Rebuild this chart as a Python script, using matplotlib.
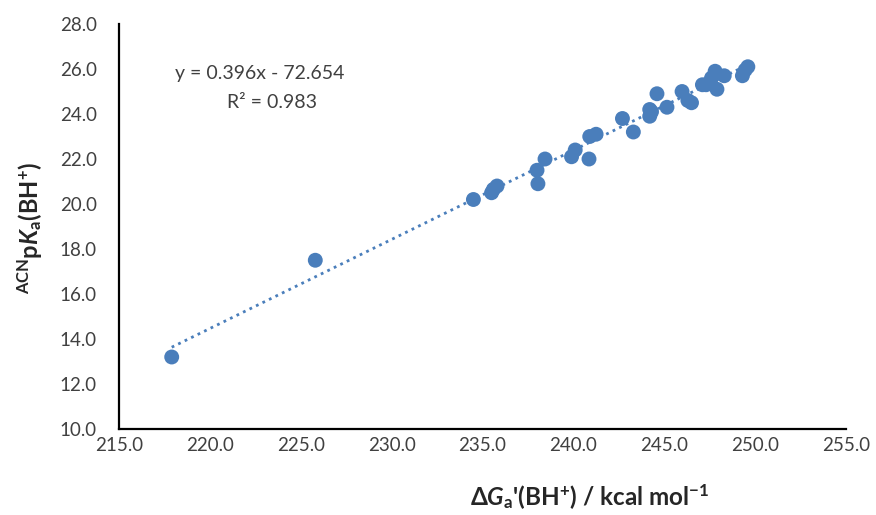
import matplotlib
matplotlib.use("Agg")
import matplotlib.pyplot as plt
import numpy as np

# Data
dG = [217.9, 225.8, 234.5, 235.5, 235.6, 235.8, 238.0, 238.05, 238.44, 239.9,
      240.1, 240.86, 240.9, 241.25, 242.7, 243.3, 244.2, 244.2, 244.3, 244.6,
      245.15, 245.98, 246.3, 246.5, 247.1, 247.3, 247.6, 247.8, 247.9, 248.3,
      249.3, 249.45, 249.6]
pKa = [13.2, 17.5, 20.2, 20.5, 20.65, 20.8, 21.5, 20.9, 22.0, 22.1,
       22.4, 22.0, 23.0, 23.1, 23.8, 23.2, 24.2, 23.9, 24.1, 24.9,
       24.3, 25.0, 24.6, 24.5, 25.3, 25.3, 25.6, 25.9, 25.1, 25.7,
       25.7, 25.95, 26.1]
slope = 0.396
intercept = -72.654
r2 = 0.983
xticks = [215.0, 220.0, 225.0, 230.0, 235.0, 240.0, 245.0, 250.0, 255.0]
yticks = [10.0, 12.0, 14.0, 16.0, 18.0, 20.0, 22.0, 24.0, 26.0, 28.0]

plt.rcParams['font.family'] = ['Lato', 'DejaVu Sans']
plt.rcParams['mathtext.fontset'] = 'custom'
plt.rcParams['mathtext.rm'] = 'Lato'
plt.rcParams['mathtext.it'] = 'Lato:italic'
plt.rcParams['mathtext.bf'] = 'Lato:bold'
plt.rcParams['mathtext.bfit'] = 'Lato:bold:italic'

color = '#4A7EBB'
fig = plt.figure(figsize=(8.76, 5.15), dpi=100)
ax = fig.add_axes([119/876, 1-429/515, (846-119)/876, (429-24)/515])

xs = np.array([min(dG), max(dG)])
ax.plot(xs, slope*xs + intercept, linestyle=(0, (1, 1.6)), color=color, lw=2.0, zorder=1)
ax.scatter(dG, pKa, s=115, color=color, edgecolors='none', zorder=2)

ax.set_xlim(215, 255)
ax.set_ylim(10, 28)
ax.set_xticks(xticks)
ax.set_yticks(yticks)
ax.set_xticklabels([f'{v:.1f}' for v in xticks])
ax.set_yticklabels([f'{v:.1f}' for v in yticks])
ax.tick_params(axis='both', length=0, labelsize=13.5, colors='#404040')
ax.tick_params(axis='x', pad=6)
ax.tick_params(axis='y', pad=16)
for s in ['top', 'right']:
    ax.spines[s].set_visible(False)
for s in ['left', 'bottom']:
    ax.spines[s].set_linewidth(1.6)
    ax.spines[s].set_color('black')

fig.text(590/876, 1-497/515,
         r"$\mathbf{\Delta}\mathbfit{G}_{\mathbf{a}}$'(BH$^{\mathbf{+}}$) / kcal mol$^{\mathbf{-1}}$",
         ha='center', va='center', fontsize=17.5, fontweight='bold', color='#262626')
fig.text(30/876, 1-228/515,
         r"$^{\mathbf{ACN}}$p$\mathbfit{K}_{\mathbf{a}}$(BH$^{\mathbf{+}}$)",
         ha='center', va='center', rotation=90, fontsize=17, fontweight='bold', color='#262626')

fig.text(260/876, 1-73/515, f'y = {slope:.3f}x - {abs(intercept):.3f}',
         ha='center', va='center', fontsize=14, color='#404040')
fig.text(272/876, 1-103/515, f'R² = {r2:.3f}',
         ha='center', va='center', fontsize=14, color='#404040')

fig.savefig('out.png', dpi=100)
